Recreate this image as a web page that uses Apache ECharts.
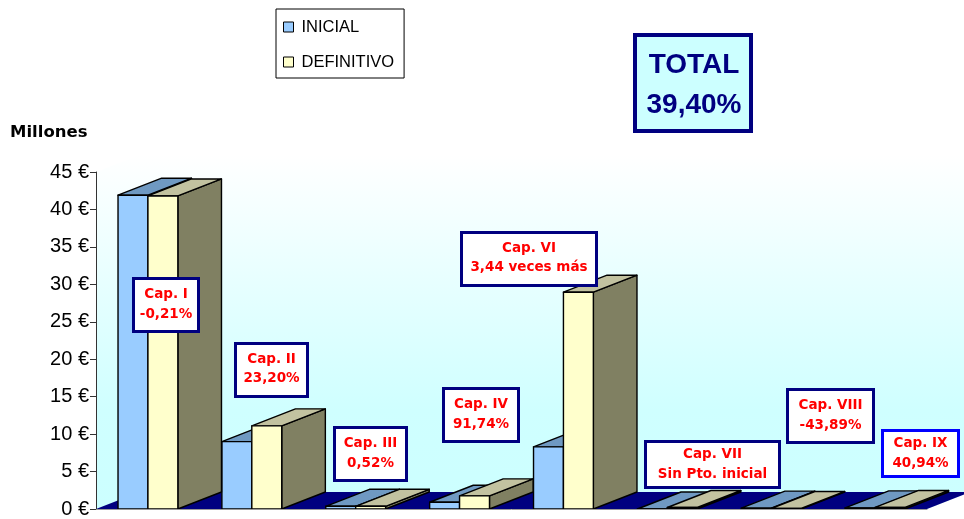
<!DOCTYPE html>
<html><head><meta charset="utf-8">
<script src="https://cdn.jsdelivr.net/npm/echarts@6/dist/echarts.min.js"></script>
<style>html,body{margin:0;padding:0;background:#fff}#c{width:964px;height:519px}</style>
</head><body><div id="c"></div>
<script>
// ---- data ----
var categories = ['Cap. I', 'Cap. II', 'Cap. III', 'Cap. IV', 'Cap. VI', 'Cap. VII', 'Cap. VIII', 'Cap. IX'];
var inicial    = [41.9, 9.0, 0.36, 0.9, 8.3, 0, 0.12, 0.15];
var definitivo = [41.8, 11.1, 0.36, 1.75, 28.95, 0.2, 0.07, 0.21];
var yTickValues = [0, 5, 10, 15, 20, 25, 30, 35, 40, 45];
var seriesNames = ['INICIAL', 'DEFINITIVO'];
var noteTitles = ['Cap. I', 'Cap. II', 'Cap. III', 'Cap. IV', 'Cap. VI', 'Cap. VII', 'Cap. VIII', 'Cap. IX'];
var noteValues = ['-0,21%', '23,20%', '0,52%', '91,74%', '3,44 veces más', 'Sin Pto. inicial', '-43,89%', '40,94%'];
var totalTitle = 'TOTAL';
var totalValue = '39,40%';
var unitLabel = 'Millones';

// ---- layout / style ----
var DEPTH_Y = 17, DEPTH_FRAC = 0.42, W_FRAC = 0.288;
var noteLayout = [ // x1,y1,x2,y2,line1Y,line2Y,border
  [132, 277, 200, 333, 294, 314, '#000080'],
  [234, 342, 309, 398, 359, 378, '#000080'],
  [333, 426, 408, 482, 443, 463, '#000080'],
  [442, 387, 520, 443, 404, 424, '#000080'],
  [460, 231, 598, 287, 248, 267, '#000080'],
  [644, 440, 781, 489, 454, 474, '#000080'],
  [786, 388, 875, 444, 405, 425, '#000080'],
  [881, 429, 960, 478, 443, 463, '#0000FF']
];
var colInicial = {front: '#99CCFF', top: '#6F99C2', side: '#4F6F8F'};
var colDef = {front: '#FFFFCC', top: '#C2C2A0', side: '#808062'};

function makeBar(side, colors) {
  return function (params, api) {
    var i = api.value(0), v = api.value(1);
    var c0 = api.coord([i, 0]), c1 = api.coord([i, v]);
    var bw = api.size([1, 0])[0];
    var w = bw * W_FRAC, dx = bw * DEPTH_FRAC, dy = -DEPTH_Y;
    var xl = side === 0 ? c0[0] - w : c0[0];
    var xr = xl + w;
    var yb = c0[1], yt = c1[1];
    function st(fill) { return {fill: fill, stroke: '#000', lineWidth: 1.4, lineJoin: 'round'}; }
    return {type: 'group', children: [
      {type: 'polygon', shape: {points: [[xr, yb], [xr + dx, yb + dy], [xr + dx, yt + dy], [xr, yt]]}, style: st(colors.side)},
      {type: 'polygon', shape: {points: [[xl, yt], [xr, yt], [xr + dx, yt + dy], [xl + dx, yt + dy]]}, style: st(colors.top)},
      {type: 'polygon', shape: {points: [[xl, yb], [xr, yb], [xr, yt], [xl, yt]]}, style: st(colors.front)}
    ]};
  };
}

function wallItem(params, api) {
  var cs = params.coordSys;
  var x0 = cs.x, x1 = cs.x + cs.width, y0 = cs.y, y1 = cs.y + cs.height;
  var bw = api.size([1, 0])[0];
  var dx = bw * DEPTH_FRAC, dy = -DEPTH_Y;
  return {type: 'group', children: [
    {type: 'polygon', shape: {points: [[x0, y1], [x0, y0], [x0 + dx, y0 + dy], [x1 + dx, y0 + dy], [x1 + dx, y1 + dy], [x1, y1]]},
      style: {fill: new echarts.graphic.LinearGradient(0, 0, 0, 1, [{offset: 0, color: '#FFFFFF'}, {offset: 0.72, color: '#CFFFFF'}, {offset: 1, color: '#CCFFFF'}])}},
    {type: 'polygon', shape: {points: [[x0, y1], [x1, y1], [x1 + dx, y1 + dy], [x0 + dx, y1 + dy]]}, style: {fill: '#000080'}}
  ]};
}

var graphics = [];
noteLayout.forEach(function (L, k) {
  graphics.push({type: 'rect', z: 100, shape: {x: L[0] + 1.5, y: L[1] + 1.5, width: L[2] - L[0] - 3, height: L[3] - L[1] - 3},
    style: {fill: '#FFFFFF', stroke: L[6], lineWidth: 3}});
  [noteTitles[k], noteValues[k]].forEach(function (t, j) {
    graphics.push({type: 'text', z: 101, style: {text: t, x: (L[0] + L[2]) / 2, y: j === 0 ? L[4] : L[5],
      align: 'center', verticalAlign: 'middle', textAlign: 'center', textVerticalAlign: 'middle',
      fill: '#FF0000', font: 'bold 13.5px "DejaVu Sans"'}});
  });
});
graphics.push({type: 'rect', z: 100, shape: {x: 635, y: 35, width: 116, height: 96}, style: {fill: '#CCFFFF', stroke: '#000080', lineWidth: 4}});
graphics.push({type: 'text', z: 101, style: {text: totalTitle, x: 694, y: 65, align: 'center', verticalAlign: 'middle', textAlign: 'center', textVerticalAlign: 'middle', fill: '#000080', font: 'bold 28px "Liberation Sans"'}});
graphics.push({type: 'text', z: 101, style: {text: totalValue, x: 694, y: 105, align: 'center', verticalAlign: 'middle', textAlign: 'center', textVerticalAlign: 'middle', fill: '#000080', font: 'bold 28px "Liberation Sans"'}});
graphics.push({type: 'text', z: 101, style: {text: unitLabel, x: 10, y: 133, align: 'left', verticalAlign: 'middle', textAlign: 'left', textVerticalAlign: 'middle', fill: '#000000', font: 'bold 16.5px "DejaVu Sans"'}});

var chart = echarts.init(document.getElementById('c'), null, {renderer: 'canvas'});
chart.setOption({
  animation: false,
  backgroundColor: '#FFFFFF',
  grid: {left: 96, right: 37, top: 172, bottom: 8, containLabel: false},
  legend: {
    orient: 'vertical', left: 276, top: 9, padding: [9, 10, 7, 7], itemGap: 17,
    itemWidth: 10, itemHeight: 10, borderColor: '#000', borderWidth: 1, backgroundColor: '#FFFFFF',
    selectedMode: false, icon: 'rect',
    textStyle: {fontFamily: 'Liberation Sans', fontSize: 16.5, color: '#000', lineHeight: 18, padding: [0, 0, 0, 3]},
    data: [
      {name: seriesNames[0], itemStyle: {color: colInicial.front, borderColor: '#000', borderWidth: 1}},
      {name: seriesNames[1], itemStyle: {color: colDef.front, borderColor: '#000', borderWidth: 1}}
    ]
  },
  xAxis: {
    type: 'category', data: categories,
    axisLabel: {show: false}, axisTick: {show: false},
    axisLine: {show: true, lineStyle: {color: '#999', width: 1}}, z: 5
  },
  yAxis: {
    type: 'value', min: yTickValues[0], max: yTickValues[yTickValues.length - 1], interval: yTickValues[1] - yTickValues[0],
    axisLine: {show: true, lineStyle: {color: '#333', width: 1}},
    axisTick: {show: true, length: 6, lineStyle: {color: '#333'}},
    splitLine: {show: false},
    axisLabel: {formatter: '{value} €', fontFamily: 'Liberation Sans', fontSize: 20, color: '#000', margin: 7},
    z: 5
  },
  graphic: graphics,
  series: [
    {type: 'custom', name: 'wall', data: [[0, 0]], renderItem: wallItem, z: 0, silent: true, legendHoverLink: false},
    {type: 'custom', name: seriesNames[0], data: inicial.map(function (v, i) { return [i, v]; }), renderItem: makeBar(0, colInicial), z: 2,
      encode: {x: 0, y: 1}, itemStyle: {color: colInicial.front}},
    {type: 'custom', name: seriesNames[1], data: definitivo.map(function (v, i) { return [i, v]; }), renderItem: makeBar(1, colDef), z: 3,
      encode: {x: 0, y: 1}, itemStyle: {color: colDef.front}}
  ]
});
</script></body></html>
